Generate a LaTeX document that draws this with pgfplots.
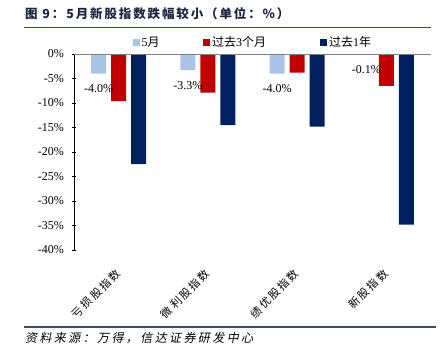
\documentclass[border=0pt]{standalone}
\usepackage{fontspec}
\setmainfont{Liberation Serif}
\newfontfamily\cjk{Noto Sans CJK SC}
\newfontfamily\cjks[LetterSpace=18]{Noto Sans CJK SC}
\newfontfamily\cjkt[LetterSpace=15]{Noto Sans CJK SC}
\newfontfamily\cjkit[FakeSlant=0.2,LetterSpace=20]{Noto Sans CJK SC}
\usepackage{pgfplots}
\pgfplotsset{compat=1.18}
\definecolor{lb}{HTML}{A9C4E6}
\definecolor{rd}{HTML}{C00000}
\definecolor{nv}{HTML}{002060}
\definecolor{ln}{HTML}{3A4A6B}
\definecolor{titlec}{HTML}{1B2540}
\begin{document}
\begin{tikzpicture}
\path[use as bounding box] (0pt,0pt) rectangle (445pt,-356pt);
\node[anchor=west, font=\cjkt\bfseries\fontsize{12.5}{15}\selectfont, text=titlec, inner sep=0] at (25pt,-14pt) {图 9：5月新股指数跌幅较小（单位：\%）};
\draw[ln, line width=1.5pt] (24pt,-27.5pt) -- (431pt,-27.5pt);
\draw[ln, line width=2pt] (24pt,-326.5pt) -- (436pt,-326.5pt);
\node[anchor=west, font=\cjkit\fontsize{12}{14}\selectfont, inner sep=0] at (25pt,-338pt) {资料来源：万得，信达证券研发中心};
\begin{axis}[
  at={(74pt,-54pt)}, anchor=north west,
  scale only axis, width=357pt, height=196pt,
  ybar=5pt, bar width=15pt,
  xmin=-0.5, xmax=3.5, ymin=-40, ymax=0,
  xtick={0,1,2,3},
  xticklabels={亏损股指数,微利股指数,绩优股指数,新股指数},
  x tick label style={font=\cjks\fontsize{11}{13}\selectfont, xshift=-4pt, yshift=-11pt, rotate=45, anchor=north east},
  major x tick style={draw=none},
  ytick={-40,-35,-30,-25,-20,-15,-10,-5,0},
  yticklabel={\pgfmathprintnumber{\tick}\%},
  y tick label style={font=\fontsize{12}{14}\selectfont, xshift=-4.5pt},
  /pgf/number format/assume math mode=true,
  tick align=outside, major tick length=4pt,
  axis y line=left, axis x line=bottom,
  x axis line style={draw=none},
  y axis line style={-, black, line width=0.9pt},
  ytick style={black, line width=0.8pt},
  legend columns=3,
  legend image code/.code={\fill[#1] (0pt,-3.5pt) rectangle (7pt,3.5pt);},
  legend style={draw=none, fill=none, at={(0.155,1.061)}, anchor=west,
    font=\fontsize{12}{14}\selectfont,
    /tikz/every even column/.append style={column sep=38pt}},
]
\addlegendimage{fill=lb, draw=none}
\addlegendimage{fill=rd, draw=none}
\addlegendimage{fill=nv, draw=none}
\legend{5{\cjk 月}\hspace*{3.5pt},{\cjk 过去}3{\cjk 个月}\hspace*{14pt},{\cjk 过去}1{\cjk 年}}
\addplot[fill=lb, draw=none,
  nodes near coords={\pgfmathprintnumber[fixed,fixed zerofill,precision=1]{\pgfplotspointmeta}\%},
  nodes near coords style={font=\fontsize{12}{14}\selectfont, anchor=north, yshift=-7.5pt}]
  coordinates {(0,-4.0) (1,-3.3) (2,-4.0) (3,-0.1)};
\addplot[fill=rd, draw=none] coordinates {(0,-9.6) (1,-7.9) (2,-3.8) (3,-6.5)};
\addplot[fill=nv, draw=none] coordinates {(0,-22.5) (1,-14.5) (2,-14.8) (3,-34.8)};
\draw[gray, line width=0.8pt] (rel axis cs:0,1) -- (rel axis cs:1,1);
\end{axis}
\end{tikzpicture}
\end{document}
